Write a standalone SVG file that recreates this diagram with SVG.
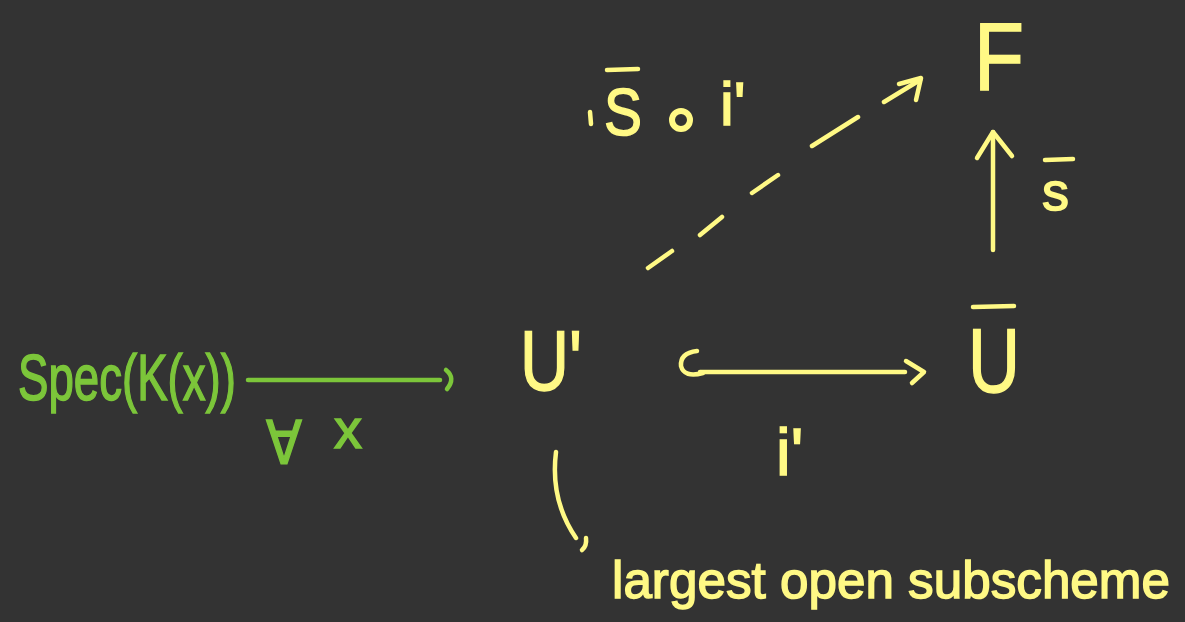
<svg xmlns="http://www.w3.org/2000/svg" width="1185" height="622" viewBox="0 0 1185 622">
<style>
.y{fill:#fff985;stroke:#fff985;stroke-width:1.5;font-family:"Liberation Sans","DejaVu Sans",sans-serif}
.g{fill:#7cc63a;stroke:#7cc63a;stroke-width:1.5;font-family:"Liberation Sans","DejaVu Sans",sans-serif}
.ly{stroke:#fff985;stroke-width:4.5;fill:none;stroke-linecap:round;stroke-linejoin:round}
.lg{stroke:#7cc63a;stroke-width:4.5;fill:none;stroke-linecap:round;stroke-linejoin:round}
</style>
<rect width="1185" height="622" fill="#333333"/>
<g id="spec">
<text class="g" x="18" y="400" font-size="64" textLength="218" lengthAdjust="spacingAndGlyphs">Spec(K(x))</text>
</g>
<g id="U1">
<text class="y" x="520" y="390" font-size="86" textLength="62" lengthAdjust="spacingAndGlyphs">U'</text>
</g>
<g id="Ubar">
<text class="y" x="968" y="392" font-size="90" textLength="52" lengthAdjust="spacingAndGlyphs">U</text>
<line class="ly" x1="973" y1="307" x2="1014" y2="306"/>
</g>
<g id="F">
<text class="y" x="974" y="90" font-size="96" textLength="50" lengthAdjust="spacingAndGlyphs">F</text>
</g>
<g id="note">
<path class="ly" d="M556 452 Q550 500 576 538"/>
<path class="ly" d="M586 538 Q587 546 582 550"/>
<text class="y" x="612" y="598" font-size="52" textLength="558" lengthAdjust="spacingAndGlyphs">largest open subscheme</text>
</g>
<g id="connectors">
<line class="lg" x1="248" y1="380" x2="440" y2="380"/>
<path class="lg" d="M446 370 Q456 378 447 389"/>
<path class="ly" d="M697 351 Q680 353 681 366 Q684 378 703 373"/>
<line class="ly" x1="700" y1="372" x2="905" y2="372"/>
<path class="ly" d="M906 361 L924 372 L912 383"/>
<line class="ly" x1="993" y1="250" x2="993" y2="132"/>
<path class="ly" d="M977 158 L993 132 L1012 156"/>
<path class="ly" d="M648 268 L672 251 M700 235 L722 217 M752 193 L778 175 M812 146 L858 117 M884 102 L920 80"/>
<path class="ly" d="M899 84 L921 78 L916 100"/>
</g>
<g id="labels">
<text class="g" x="266" y="464" font-size="60" textLength="36" lengthAdjust="spacingAndGlyphs">∀</text>
<text class="g" x="334" y="448" font-size="56">x</text>
<text class="y" x="776" y="475" font-size="66">i'</text>
<text class="y" x="1042" y="210" font-size="54">s</text>
<line class="ly" x1="1045" y1="160" x2="1073" y2="159"/>
<line class="ly" x1="590" y1="112" x2="591" y2="124"/>
<text class="y" x="604" y="135" font-size="66" textLength="38" lengthAdjust="spacingAndGlyphs">S</text>
<line class="ly" x1="607" y1="70" x2="638" y2="69"/>
<circle cx="681" cy="120" r="9" fill="none" stroke="#fff985" stroke-width="6"/>
<text class="y" x="720" y="125" font-size="62">i'</text>
</g>
</svg>
